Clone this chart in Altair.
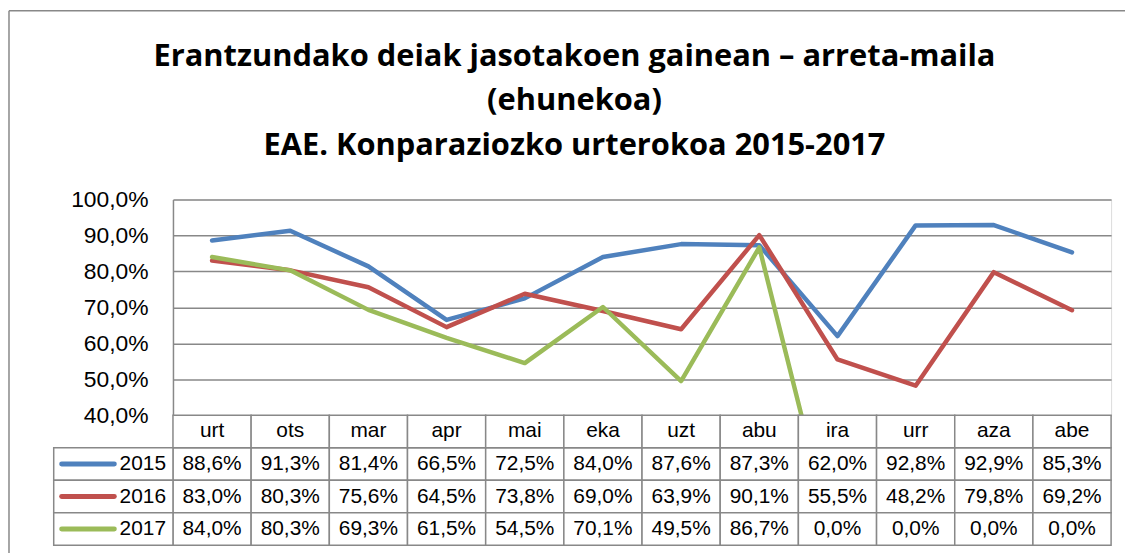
import altair as alt
import pandas as pd

months = ["urt", "ots", "mar", "apr", "mai", "eka", "uzt", "abu", "ira", "urr", "aza", "abe"]
years = ["2015", "2016", "2017"]
v2015 = [88.6, 91.3, 81.4, 66.5, 72.5, 84.0, 87.6, 87.3, 62.0, 92.8, 92.9, 85.3]
v2016 = [83.0, 80.3, 75.6, 64.5, 73.8, 69.0, 63.9, 90.1, 55.5, 48.2, 79.8, 69.2]
v2017 = [84.0, 80.3, 69.3, 61.5, 54.5, 70.1, 49.5, 86.7, 0.0, 0.0, 0.0, 0.0]
colors = ["#4F81BD", "#C0504D", "#9BBB59"]
y_ticks = [40, 50, 60, 70, 80, 90, 100]
title_lines = [
    "Erantzundako deiak jasotakoen gainean – arreta-maila",
    "(ehunekoa)",
    "EAE. Konparaziozko urterokoa 2015-2017",
]

series = {"2015": v2015, "2016": v2016, "2017": v2017}
rows = []
for yr in years:
    for m, v in zip(months, series[yr]):
        rows.append({"month": m, "year": yr, "row": yr, "value": v,
                     "label": f"{v:.1f}%".replace(".", ",")})
df = pd.DataFrame(rows)
hdr = pd.DataFrame({"month": months, "row": "hdr", "label": months})
cells = pd.concat([df[["month", "row", "label"]], hdr], ignore_index=True)
yrs = pd.DataFrame({"year": years, "row": years})
frame = pd.DataFrame({"k": [0]})

GRAY = "#888888"
W, H = 944, 217
row_dom = ["hdr"] + years

xscale = alt.Scale(type="band", domain=months, paddingInner=0, paddingOuter=0)
yrow = alt.Scale(type="band", domain=row_dom, range=[H, 348], paddingInner=0, paddingOuter=0)
cscale = alt.Scale(domain=years, range=colors)

frame_left = alt.Chart(frame).mark_rule(stroke=GRAY, strokeWidth=1.5).encode(
    x=alt.value(-165), y=alt.value(-190), y2=alt.value(362)
)
frame_top = alt.Chart(frame).mark_rule(stroke=GRAY, strokeWidth=1.5).encode(
    x=alt.value(-165), x2=alt.value(958), y=alt.value(-190)
)

lines = alt.Chart(df).mark_line(clip=True, strokeWidth=4.5, strokeJoin="round", strokeCap="round").encode(
    x=alt.X("month:N", sort=months, scale=xscale, axis=None, bandPosition=0.5),
    y=alt.Y("value:Q", scale=alt.Scale(domain=[40, 100], nice=False, zero=False),
            axis=alt.Axis(values=y_ticks, title=None, grid=True, gridColor=GRAY, gridWidth=1.5,
                          domainColor=GRAY, domainWidth=1.5, ticks=False,
                          labelExpr="replace(format(datum.value, '.1f'), '.', ',') + '%'",
                          labelFont="Liberation Sans", labelFontSize=23, labelColor="black",
                          labelPadding=25)),
    color=alt.Color("year:N", scale=cscale, legend=None),
)

cell_rects = alt.Chart(cells).mark_rect(fill="white", stroke=GRAY, strokeWidth=1.5).encode(
    x=alt.X("month:N", sort=months, scale=xscale, axis=None),
    y=alt.Y("row:N", scale=yrow, axis=None),
)
cell_text = alt.Chart(cells).mark_text(font="Liberation Sans", fontSize=21, color="black",
                                       baseline="middle", align="center").encode(
    x=alt.X("month:N", sort=months, scale=xscale, axis=None, bandPosition=0.5),
    y=alt.Y("row:N", scale=yrow, axis=None, bandPosition=0.5),
    text="label:N",
)

leg_rects = alt.Chart(yrs).mark_rect(fill="white", stroke=GRAY, strokeWidth=1.5).encode(
    x=alt.value(-120), x2=alt.value(0),
    y=alt.Y("row:N", scale=yrow, axis=None),
)
leg_swatch = alt.Chart(yrs).mark_rule(strokeWidth=5, strokeCap="round").encode(
    x=alt.value(-112), x2=alt.value(-59),
    y=alt.Y("row:N", scale=yrow, axis=None, bandPosition=0.5),
    color=alt.Color("year:N", scale=cscale, legend=None),
)
leg_text = alt.Chart(yrs).mark_text(font="Liberation Sans", fontSize=21, color="black",
                                    baseline="middle", align="right").encode(
    x=alt.value(-7),
    y=alt.Y("row:N", scale=yrow, axis=None, bandPosition=0.5),
    text="year:N",
)

chart = alt.layer(
    frame_left, frame_top, lines, cell_rects, cell_text, leg_rects, leg_swatch, leg_text
).resolve_scale(y="independent").properties(
    width=W, height=H, padding=0,
    title=alt.TitleParams(text=title_lines, font="Open Sans", fontSize=31, fontWeight="bold",
                          lineHeight=45, anchor="middle", frame="group", dx=-68, offset=-153,
                          color="black"),
).configure_view(stroke=None).configure(background="white")

chart.save("out.html", embed_options={"renderer": "svg", "actions": False})
